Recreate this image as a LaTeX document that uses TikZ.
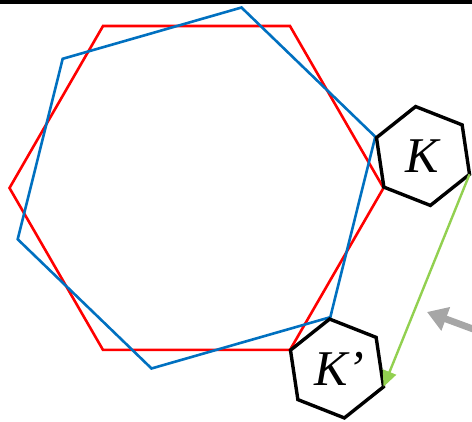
\documentclass[tikz,border=0pt]{standalone}
\usepackage{fontspec}
\setmainfont{Liberation Serif}
\usetikzlibrary{arrows.meta,calc}

\definecolor{hexred}{RGB}{255,0,0}
\definecolor{hexblue}{RGB}{0,112,192}
\definecolor{shiftgreen}{RGB}{146,208,80}
\definecolor{pointgray}{RGB}{166,166,166}

\begin{document}
\begin{tikzpicture}[x=0.5pt,y=-0.5pt,line join=miter]

\useasboundingbox (0,0) rectangle (472,422);

% Top border
\fill[black] (0,0) rectangle (472,4);

% Centres
\coordinate (c) at (196.5,188);
\coordinate (kc) at (423,156);
\coordinate (kpc) at (337,368.5);

% Red hexagon
\draw[hexred,line width=1.3pt] ($(c)+(0:187)$)
  \foreach \a in {60,120,...,300} {-- ($(c)+(\a:187)$)} -- cycle;

% Blue hexagon (turned)
\draw[hexblue,line width=1.3pt] ($(c)+(44:186)$)
  \foreach \a in {104,164,...,344} {-- ($(c)+(\a:186)$)} -- cycle;

% Hexagon K
\draw[black,line width=1.7pt,fill=white] ($(kc)+(21.5:50)$)
  \foreach \a in {81.5,141.5,...,321.5} {-- ($(kc)+(\a:50)$)} -- cycle;
\node (klabel) at (kc) {\fontsize{25}{25}\selectfont\textit{K}};

% Hexagon K'
\draw[black,line width=1.7pt,fill=white] ($(kpc)+(21.5:50)$)
  \foreach \a in {81.5,141.5,...,321.5} {-- ($(kpc)+(\a:50)$)} -- cycle;
\node (kplabel) at ($(kpc)+(2,0)$) {\fontsize{25}{25}\selectfont\textit{K’}};

% Shift of K onto K'
\coordinate (k1) at ($(kc)+(21.5:50)$);
\coordinate (kp1) at ($(kpc)+(21.5:50)$);
\draw[shiftgreen,line width=1.2pt,-{Triangle[length=8pt,width=7pt]}] (k1) -- (kp1);

% Pointer
\coordinate (gtail) at (473,329);
\coordinate (gtip) at (427,312);
\draw[pointgray,line width=3.4pt,-{Triangle[length=10pt,width=12pt]}] (gtail) -- (gtip);

\end{tikzpicture}
\end{document}
